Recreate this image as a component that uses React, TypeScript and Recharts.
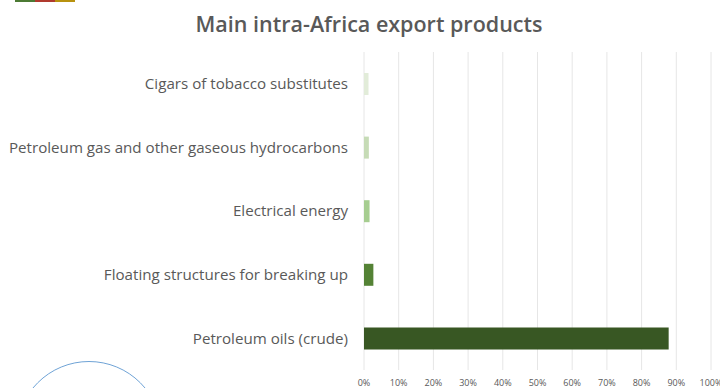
import React from "react";
import { BarChart, Bar, Cell, XAxis, YAxis, CartesianGrid } from "recharts";

const products = [
  "Cigars of tobacco substitutes",
  "Petroleum gas and other gaseous hydrocarbons",
  "Electrical energy",
  "Floating structures for breaking up",
  "Petroleum oils (crude)",
];
const shares = [0.013, 0.014, 0.016, 0.027, 0.878];
const barColors = ["#e2ecd9", "#c6dbb6", "#a6cd90", "#548235", "#385723"];
const xTicks = [0, 0.1, 0.2, 0.3, 0.4, 0.5, 0.6, 0.7, 0.8, 0.9, 1];

const data = products.map((name, i) => ({ name, share: shares[i] }));

const font = '"Open Sans", sans-serif';

export default function App() {
  return (
    <div style={{ position: "absolute", left: 0, top: 0, width: 720, height: 388, overflow: "hidden", background: "#fff" }}>
      {/* logo strip cut off at the top of the page */}
      <div style={{ position: "absolute", left: 15, top: 0, width: 20, height: 1.5, background: "#4c7a34" }} />
      <div style={{ position: "absolute", left: 35, top: 0, width: 20, height: 1.5, background: "#b03a2e" }} />
      <div style={{ position: "absolute", left: 55, top: 0, width: 20, height: 1.5, background: "#b8920f" }} />
      <div
        style={{
          position: "absolute",
          left: 89 - 73,
          top: 361,
          width: 146,
          height: 146,
          boxSizing: "border-box",
          borderRadius: "50%",
          border: "1px solid #6fa3d6",
        }}
      />
      <div
        style={{
          position: "absolute",
          left: 0,
          top: 10,
          width: 738,
          textAlign: "center",
          fontFamily: font,
          fontWeight: 600,
          fontSize: 21.5,
          lineHeight: "28px",
          color: "#595959",
        }}
      >
        Main intra-Africa export products
      </div>
      <BarChart
        width={720}
        height={388}
        data={data}
        layout="vertical"
        barSize={22}
        margin={{ top: 52, right: 9, bottom: 0, left: 0 }}
        style={{ position: "absolute", left: 0, top: 0 }}
      >
        <CartesianGrid horizontal={false} stroke="#e6e6e6" verticalValues={xTicks} />
        <XAxis
          type="number"
          domain={[0, 1]}
          ticks={xTicks}
          interval={0}
          height={18}
          axisLine={false}
          tickLine={false}
          tickMargin={4}
          tick={{ fill: "#595959", fontSize: 9, fontFamily: font }}
          tickFormatter={(v: number) => `${Math.round(v * 100)}%`}
        />
        <YAxis
          type="category"
          dataKey="name"
          width={364}
          interval={0}
          axisLine={false}
          tickLine={false}
          tickMargin={10}
          tick={{ fill: "#595959", fontSize: 15.15, fontFamily: font }}
        />
        <Bar dataKey="share" isAnimationActive={false}>
          {data.map((d, i) => (
            <Cell key={d.name} fill={barColors[i]} />
          ))}
        </Bar>
      </BarChart>
    </div>
  );
}
